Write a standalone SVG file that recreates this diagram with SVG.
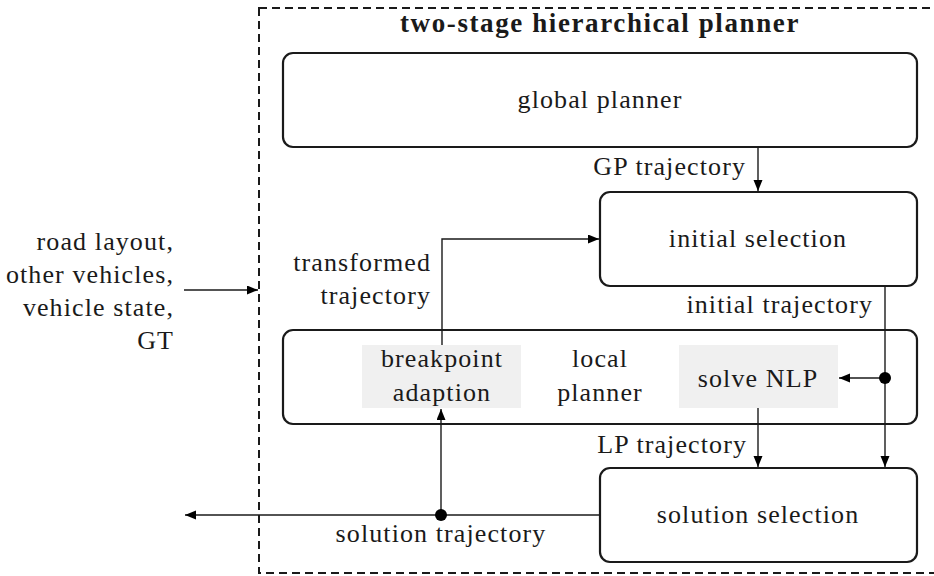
<svg xmlns="http://www.w3.org/2000/svg" width="934" height="576" viewBox="0 0 934 576" font-family="'Liberation Serif', 'DejaVu Serif', serif">
<style>
  text { font-family: 'Liberation Serif', 'DejaVu Serif', serif; font-size: 26px; fill: #1a1a1a; letter-spacing: 1.1px; }
  .title { font-weight: bold; font-size: 27px; letter-spacing: 1.6px; }
  .c { text-anchor: middle; }
  .e { text-anchor: end; }
  .box { fill: #ffffff; stroke: #1a1a1a; stroke-width: 2.2; }
  .sub { fill: #f0f0f0; stroke: none; }
  .frame { fill: none; stroke: #1a1a1a; stroke-width: 2; stroke-dasharray: 8 5; }
  .wire { fill: none; stroke: #1a1a1a; stroke-width: 1.4; }
  .dot { fill: #000000; }
</style>
<defs>
  <marker id="arr" markerUnits="userSpaceOnUse" markerWidth="12" markerHeight="10" refX="11" refY="4.5" orient="auto">
    <path d="M0,0 L11,4.5 L0,9 z" fill="#000"/>
  </marker>
</defs>

<g id="frame">
  <rect class="frame" x="259" y="8" width="700" height="565"/>
  <text class="title c" x="600" y="32">two-stage hierarchical planner</text>
</g>

<g id="inputs">
  <text class="e" x="174" y="250">road layout,</text>
  <text class="e" x="174" y="283">other vehicles,</text>
  <text class="e" x="174" y="316">vehicle state,</text>
  <text class="e" x="174" y="349">GT</text>
</g>

<g id="global-planner">
  <rect class="box" x="283" y="53" width="634" height="94" rx="10"/>
  <text class="c" x="600" y="108">global planner</text>
</g>

<g id="initial-selection">
  <rect class="box" x="600" y="192" width="317" height="94" rx="10"/>
  <text class="c" x="758" y="247">initial selection</text>
</g>

<g id="local-planner">
  <rect class="box" x="283" y="330" width="634" height="94" rx="10"/>
  <text class="c" x="600" y="367">local</text>
  <text class="c" x="600" y="401">planner</text>
</g>

<g id="breakpoint-adaption">
  <rect class="sub" x="362" y="345" width="159" height="63"/>
  <text class="c" x="442" y="367">breakpoint</text>
  <text class="c" x="442" y="401">adaption</text>
</g>

<g id="solve-nlp">
  <rect class="sub" x="679" y="345" width="159" height="63"/>
  <text class="c" x="758" y="387">solve NLP</text>
</g>

<g id="solution-selection">
  <rect class="box" x="600" y="468" width="317" height="94" rx="10"/>
  <text class="c" x="758" y="523">solution selection</text>
</g>

<g id="connectors">
  <path class="wire" d="M184,290 H258" marker-end="url(#arr)"/>
  <path class="wire" d="M758,147 V191" marker-end="url(#arr)"/>
  <text class="e" x="746" y="175">GP trajectory</text>
  <path class="wire" d="M885,286 V467" marker-end="url(#arr)"/>
  <text class="e" x="873" y="313">initial trajectory</text>
  <path class="wire" d="M885,378 H839" marker-end="url(#arr)"/>
  <circle class="dot" cx="885" cy="378" r="6"/>
  <path class="wire" d="M758,408 V467" marker-end="url(#arr)"/>
  <text class="e" x="747" y="453">LP trajectory</text>
  <path class="wire" d="M600,515 H185" marker-end="url(#arr)"/>
  <path class="wire" d="M441,515 V409" marker-end="url(#arr)"/>
  <circle class="dot" cx="441" cy="515" r="6"/>
  <text class="c" x="441" y="542">solution trajectory</text>
  <path class="wire" d="M442,345 V239 H599" marker-end="url(#arr)"/>
  <text class="e" x="431" y="271">transformed</text>
  <text class="e" x="431" y="304">trajectory</text>
</g>
</svg>
